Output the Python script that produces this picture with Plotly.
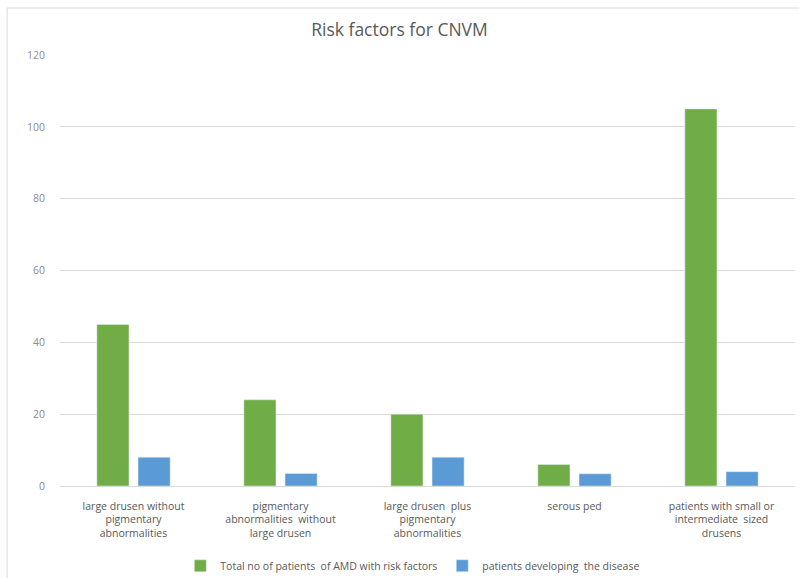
import plotly.graph_objects as go

categories = [
    "large drusen without<br>pigmentary<br>abnormalities",
    "pigmentary<br>abnormalities  without<br>large drusen",
    "large drusen  plus<br>pigmentary<br>abnormalities",
    "serous ped",
    "patients with small or<br>intermediate  sized<br>drusens",
]
total_patients = [45, 24, 20, 6, 105]
developing = [8, 3.5, 8, 3.4, 4]
series_names = ["Total no of patients  of AMD with risk factors", "patients developing  the disease"]
colors = ["#70ad47", "#5b9bd5"]
y_ticks = [0, 20, 40, 60, 80, 100, 120]

FONT = "Open Sans"

fig = go.Figure()
fig.add_trace(go.Bar(x=categories, y=total_patients, name=series_names[0], marker_color=colors[0]))
fig.add_trace(go.Bar(x=categories, y=developing, name=series_names[1], marker_color=colors[1]))

fig.update_layout(
    width=799, height=578,
    margin=dict(l=60, r=4, t=55, b=92, autoexpand=False),
    paper_bgcolor="white", plot_bgcolor="white",
    barmode="group", bargap=0.44, bargroupgap=0.22,
    title=dict(text="Risk factors for CNVM", x=0.5, xanchor="center", y=0.948, yanchor="middle",
               font=dict(family=FONT, size=17.5, color="#595959")),
    font=dict(family=FONT, color="#7f7f7f", size=10),
    showlegend=True,
    legend=dict(orientation="h", x=0.48, xanchor="center", y=-0.185, yanchor="middle",
                font=dict(family=FONT, size=10.5, color="#595959"), itemwidth=30,
                traceorder="normal"),
    xaxis=dict(showgrid=False, showline=True, linecolor="#d9d9d9", ticks="",
               ticklabelstandoff=10, automargin=False,
               tickfont=dict(family=FONT, size=10.5, color="#595959"), tickangle=0),
    yaxis=dict(range=[0, 120], tickvals=y_ticks, showgrid=True, gridcolor="#d9d9d9",
               zeroline=False, showline=False, ticks="outside", ticklen=12, tickcolor="rgba(0,0,0,0)",
               automargin=False,
               tickfont=dict(family=FONT, size=10.5, color="#8c8c8c")),
    shapes=[dict(type="rect", xref="paper", yref="paper", x0=-0.072, x1=1.2, y0=-0.4, y1=1.109,
                 line=dict(color="#d9d9d9", width=1), fillcolor="rgba(0,0,0,0)", layer="below")],
)

fig.write_html("out.html")
